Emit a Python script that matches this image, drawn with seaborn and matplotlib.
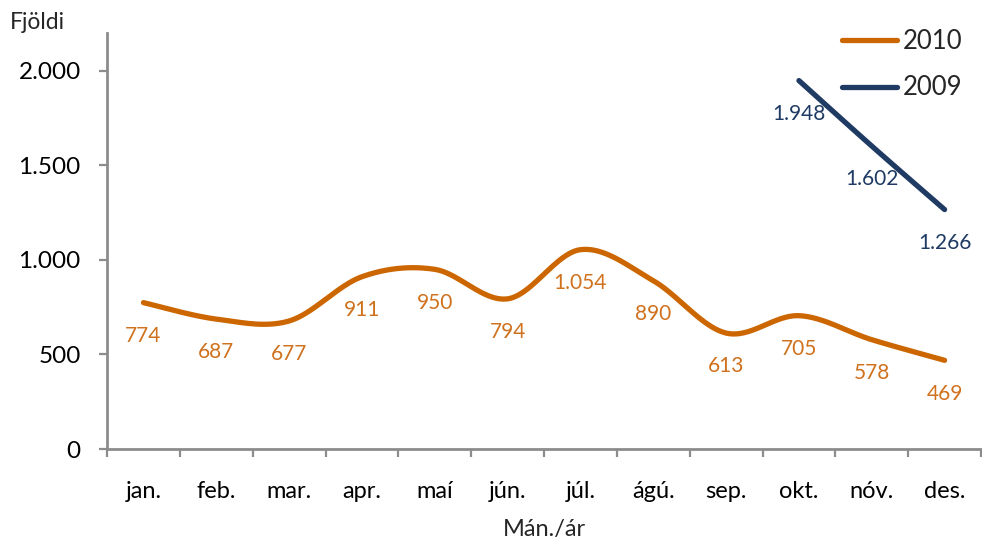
import numpy as np
import pandas as pd
import matplotlib
matplotlib.use("Agg")
import matplotlib.pyplot as plt
import seaborn as sns

months = ["jan.", "feb.", "mar.", "apr.", "maí", "jún.", "júl.", "ágú.",
          "sep.", "okt.", "nóv.", "des."]
values_2010 = [774, 687, 677, 911, 950, 794, 1054, 890, 613, 705, 578, 469]
months_2009 = ["okt.", "nóv.", "des."]
values_2009 = [1948, 1602, 1266]
y_ticks = [0, 500, 1000, 1500, 2000]

COL_2010 = "#CC6600"
COL_2010_TXT = "#D0711E"
COL_2009 = "#1F3B63"
AXIS_GREY = "#8C8C8C"


def smooth(xs, ys, n=40):
    """Cubic Bezier smoothing through the points (Catmull-Rom style)."""
    pts = np.column_stack([xs, ys]).astype(float)
    m = len(pts)
    out = []
    for i in range(m - 1):
        p0 = pts[i - 1] if i > 0 else pts[i]
        p1, p2 = pts[i], pts[i + 1]
        p3 = pts[i + 2] if i + 2 < m else pts[i + 1]
        c1 = p1 + (p2 - p0) / 6.0
        c2 = p2 - (p3 - p1) / 6.0
        t = np.linspace(0, 1, n, endpoint=(i == m - 2))[:, None]
        seg = ((1 - t) ** 3) * p1 + 3 * ((1 - t) ** 2) * t * c1 \
            + 3 * (1 - t) * t ** 2 * c2 + t ** 3 * p2
        out.append(seg)
    arr = np.vstack(out)
    return arr[:, 0], arr[:, 1]


x10 = np.arange(len(months))
x09 = np.array([months.index(m) for m in months_2009])
sx10, sy10 = smooth(x10, values_2010)
sx09, sy09 = smooth(x09, values_2009)
curves = pd.concat([
    pd.DataFrame({"x": sx10, "y": sy10, "ár": "2010"}),
    pd.DataFrame({"x": sx09, "y": sy09, "ár": "2009"}),
])

sns.set_theme(style="white")
plt.rcParams["font.family"] = ["Lato", "DejaVu Sans"]

fig = plt.figure(figsize=(9.82, 5.4), dpi=100)
ax = fig.add_axes([0.109, 0.1685, 0.890, 0.7705])

sns.lineplot(data=curves, x="x", y="y", hue="ár", sort=False,
             palette={"2010": COL_2010, "2009": COL_2009},
             linewidth=3.8, ax=ax, estimator=None)
for line in ax.lines:
    line.set_solid_capstyle("round")

for xi, v in zip(x10, values_2010):
    ax.annotate(f"{v:,}".replace(",", "."), (xi, v), xytext=(0, -24),
                textcoords="offset points", ha="center", va="center",
                fontsize=15, color=COL_2010_TXT)
for xi, v in zip(x09, values_2009):
    ax.annotate(f"{v:,}".replace(",", "."), (xi, v), xytext=(0, -24),
                textcoords="offset points", ha="center", va="center",
                fontsize=15, color=COL_2009)

ax.set_xlim(-0.5, len(months) - 0.5)
ax.set_ylim(0, 2200)
ax.set_xticks(x10)
ax.set_xticklabels(months)
ax.set_xticks(np.arange(-0.5, len(months), 1.0), minor=True)
ax.set_yticks(y_ticks)
ax.set_yticklabels([f"{t:,}".replace(",", ".") for t in y_ticks])
ax.tick_params(axis="x", which="major", length=0, pad=23, labelsize=17,
               colors="black")
ax.tick_params(axis="x", which="minor", length=6, width=1.6,
               color=AXIS_GREY, direction="out", bottom=True)
ax.tick_params(axis="y", which="major", length=6, width=1.6,
               color=AXIS_GREY, direction="out", left=True, pad=13,
               labelsize=17.5, labelcolor="black")

for side in ("top", "right"):
    ax.spines[side].set_visible(False)
for side in ("left", "bottom"):
    ax.spines[side].set_color(AXIS_GREY)
    ax.spines[side].set_linewidth(2.0)

ax.set_xlabel("Mán./ár", fontsize=17, labelpad=12)
ax.set_ylabel("")
fig.text(0.010, 0.958, "Fjöldi", fontsize=16.5, ha="left", va="center")

handles, labels = ax.get_legend_handles_labels()
order = [labels.index("2010"), labels.index("2009")]
leg = ax.legend([handles[i] for i in order], [labels[i] for i in order],
                loc="upper right", bbox_to_anchor=(0.99, 1.035), frameon=False,
                fontsize=18.5, handlelength=2.15, handletextpad=0.2,
                labelspacing=0.85, borderaxespad=0)
for h in leg.get_lines():
    h.set_linewidth(3.8)
    h.set_solid_capstyle("round")

fig.savefig("out.png", dpi=100)
